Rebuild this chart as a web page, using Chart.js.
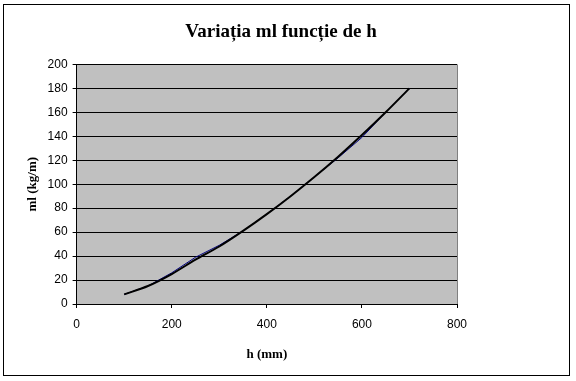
<!DOCTYPE html>
<html>
<head>
<meta charset="utf-8">
<script src="https://cdn.jsdelivr.net/npm/chart.js@4/dist/chart.umd.min.js"></script>
<style>
  html, body { margin: 0; padding: 0; background: #fff; }
  #wrap { width: 576px; height: 381px; }
</style>
</head>
<body>
<div id="wrap"><canvas id="chart"></canvas></div>
<script>
// h (mm) si ml (kg/m)
const hValues = [100, 150, 200, 250, 300, 350, 400, 450, 500, 550, 600, 650, 700];
const mlMeasured = [8, 15, 26, 39, 49, 61, 75, 90, 106, 122, 139, 160, 180];
const mlTrend = [8, 15, 25, 37, 48, 61, 75, 90, 106, 123, 141, 160, 180];
const xTicks = [0, 200, 400, 600, 800];
const yTicks = [0, 20, 40, 60, 80, 100, 120, 140, 160, 180, 200];

const toPoints = (ys) => hValues.map((h, i) => ({ x: h, y: ys[i] }));

// fundal gri, chenar exterior
const excelFrame = {
    id: 'excelFrame',
    beforeDraw(chart) {
        const { ctx, chartArea: a, width, height } = chart;
        ctx.save();
        ctx.fillStyle = '#fff';
        ctx.fillRect(0, 0, width, height);
        ctx.strokeStyle = '#000';
        ctx.lineWidth = 1;
        ctx.strokeRect(3.5, 4.5, 566, 371);
        ctx.fillStyle = '#c0c0c0';
        ctx.fillRect(a.left, a.top, a.right - a.left, a.bottom - a.top);
        ctx.strokeStyle = '#808080';
        ctx.beginPath();
        ctx.moveTo(Math.round(a.right) + 0.5, a.top);
        ctx.lineTo(Math.round(a.right) + 0.5, a.bottom);
        ctx.stroke();
        ctx.restore();
    }
};

const tickFont = { family: 'Liberation Sans', size: 12 };
const titleFont = { family: 'Liberation Serif', size: 13, weight: 'bold' };

new Chart(document.getElementById('chart'), {
    type: 'scatter',
    data: {
        datasets: [
            {
                label: 'trend',
                data: toPoints(mlTrend),
                showLine: true,
                borderColor: '#000',
                borderWidth: 2,
                pointRadius: 0,
                tension: 0.3,
                order: 0
            },
            {
                label: 'ml',
                data: toPoints(mlMeasured),
                showLine: true,
                borderColor: '#000080',
                borderWidth: 1,
                pointRadius: 0,
                order: 1
            }
        ]
    },
    options: {
        responsive: true,
        maintainAspectRatio: false,
        animation: false,
        layout: { padding: { left: 25, right: 39, top: 5, bottom: 19 } },
        scales: {
            x: {
                min: 0,
                max: 800,
                afterBuildTicks: (axis) => { axis.ticks = xTicks.map(v => ({ value: v })); },
                ticks: { color: '#000', font: tickFont, padding: 9, maxRotation: 0 },
                grid: { display: true, drawOnChartArea: false, color: '#000', tickLength: 4 },
                border: { color: '#000', width: 1 },
                title: { display: true, text: 'h (mm)', color: '#000', font: titleFont, padding: { top: 6, bottom: 0 } }
            },
            y: {
                min: 0,
                max: 200,
                afterBuildTicks: (axis) => { axis.ticks = yTicks.map(v => ({ value: v })); },
                ticks: { color: '#000', font: tickFont, padding: 5 },
                grid: { color: '#000', tickLength: 4 },
                border: { color: '#000', width: 1 },
                title: { display: true, text: 'ml (kg/m)', color: '#000', font: titleFont, padding: { top: 0, bottom: 2 } }
            },
            // spatiu gol in dreapta, ca titlul sa fie centrat pe toata latimea
            spacer: {
                type: 'linear',
                position: 'right',
                display: true,
                ticks: { display: false },
                grid: { display: false },
                border: { display: false },
                afterFit: (axis) => { axis.width = 80; }
            }
        },
        plugins: {
            legend: { display: false },
            tooltip: { enabled: false },
            title: {
                display: true,
                text: 'Variația ml funcție de h',
                color: '#000',
                font: { family: 'Liberation Serif', size: 19, weight: 'bold' },
                padding: { top: 16, bottom: 20.6 }
            }
        }
    },
    plugins: [excelFrame]
});
</script>
</body>
</html>
